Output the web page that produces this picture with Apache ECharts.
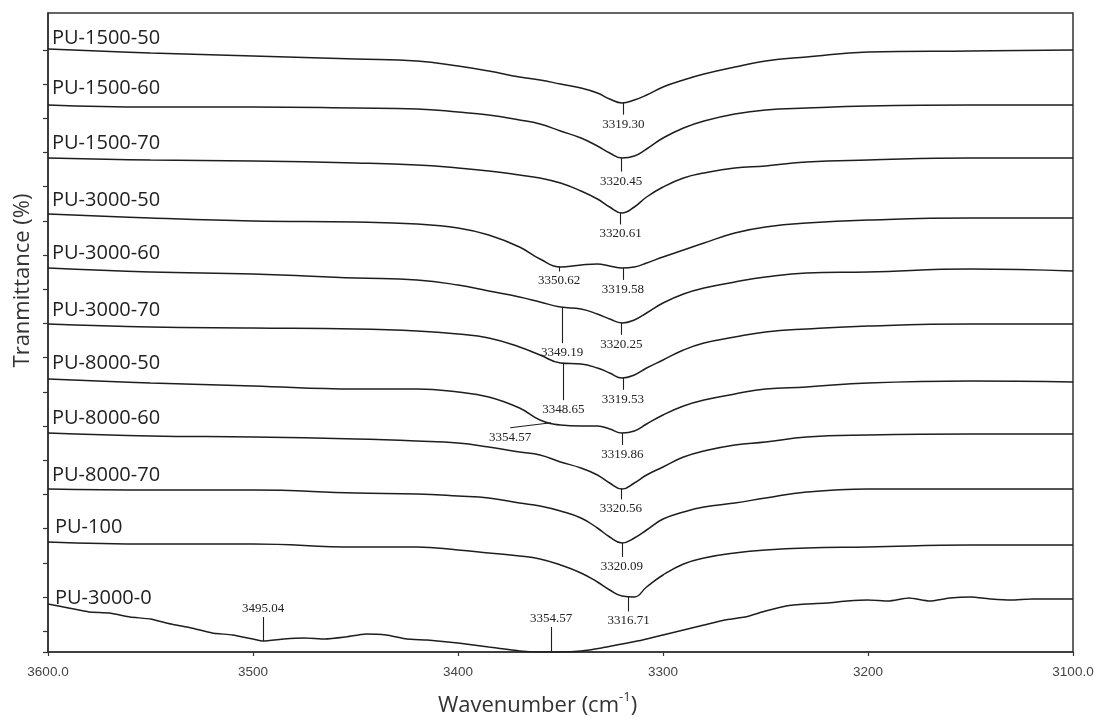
<!DOCTYPE html>
<html><head><meta charset="utf-8">
<script src="https://cdn.jsdelivr.net/npm/echarts@6/dist/echarts.min.js"></script>
<style>html,body{margin:0;padding:0;background:#fff}#chart{width:1095px;height:718px}</style>
</head><body><div id="chart"></div>
<script>
// ---------- DATA ----------
const wavenumbers = [3600,3550,3500,3450,3420,3400,3385,3370,3360,3350,3340,3332,3326,3320,3314,3308,3300,3290,3280,3265,3250,3230,3200,3150,3100];
const seriesNames = ['PU-1500-50','PU-1500-60','PU-1500-70','PU-3000-50','PU-3000-60','PU-3000-70','PU-8000-50','PU-8000-60','PU-8000-70','PU-100','PU-3000-0'];
const pu1500_50 = [60.3,59.9,59.6,59.3,59.1,58.6,58.1,57.5,57.2,56.8,56.4,55.9,55.3,54.9,55.2,55.7,56.5,57.2,57.8,58.5,59.1,59.5,60.0,60.1,60.2];
const pu1500_60 = [54.7,54.5,54.5,54.4,54.3,54.0,53.7,53.2,52.8,52.1,51.4,50.6,49.9,49.4,49.6,50.3,51.4,52.4,53.1,53.8,54.2,54.4,54.6,54.7,54.7];
const pu1500_70 = [49.4,49.2,49.1,48.9,48.7,48.4,48.1,47.7,47.4,46.9,46.1,45.3,44.5,43.9,44.5,45.5,46.5,47.4,47.9,48.4,48.6,49.0,49.2,49.4,49.4];
const pu3000_50 = [43.8,43.4,43.1,43.0,42.8,42.4,41.7,40.5,39.3,38.5,38.7,38.8,38.6,38.4,38.5,38.9,39.5,40.2,40.9,41.9,42.5,42.9,43.2,43.4,43.4];
const pu3000_60 = [38.4,38.0,37.8,37.4,37.2,36.7,36.1,35.5,35.0,34.5,34.3,33.8,33.3,32.9,33.2,33.9,34.9,35.8,36.4,37.0,37.5,37.9,38.0,38.3,38.1];
const pu3000_70 = [32.8,32.5,32.4,32.3,32.1,31.8,31.4,30.5,29.7,28.9,28.8,28.4,27.9,27.4,27.7,28.4,29.2,30.2,30.9,31.5,32.0,32.3,32.6,32.8,32.8];
const pu8000_50 = [27.3,26.9,26.6,26.3,26.3,26.0,25.5,24.4,23.2,22.7,22.6,22.6,22.3,21.9,22.1,22.8,23.7,24.6,25.2,25.8,26.3,26.5,26.9,27.1,27.0];
const pu8000_60 = [21.9,21.6,21.5,21.3,21.1,20.9,20.5,20.0,19.7,19.0,18.4,17.7,16.9,16.3,16.9,17.7,18.5,19.5,20.1,20.7,21.0,21.5,21.7,21.8,21.8];
const pu8000_70 = [16.3,16.2,16.2,15.9,15.8,15.6,15.4,14.9,14.6,14.1,13.4,12.4,11.5,10.9,11.4,12.2,13.3,14.0,14.5,14.9,15.4,16.0,16.3,16.3,16.3];
const pu100     = [11.0,10.8,10.8,10.5,10.5,10.2,9.9,9.6,9.3,8.7,7.9,7.0,6.2,5.6,5.5,6.5,7.7,8.8,9.4,9.9,10.2,10.4,10.5,10.7,10.7];
const pu3000_0_wavenumbers = [3600,3590,3580,3570,3560,3550,3540,3530,3520,3510,3500,3495,3485,3475,3465,3455,3445,3435,3425,3415,3400,3385,3370,3360,3350,3340,3330,3320,3310,3300,3290,3280,3270,3260,3250,3240,3230,3220,3210,3200,3190,3180,3170,3160,3150,3140,3130,3120,3110,3100];
const pu3000_0  = [4.8,4.4,4.0,3.9,3.5,3.3,2.8,2.4,1.9,1.7,1.3,1.1,1.3,1.4,1.3,1.5,1.8,1.7,1.3,1.2,0.9,0.5,0.1,0.0,0.0,0.1,0.4,0.8,1.2,1.7,2.2,2.7,3.2,3.5,4.1,4.6,4.8,4.9,5.1,5.2,5.1,5.4,5.1,5.4,5.5,5.3,5.2,5.3,5.3,5.3];

// peak annotations (series index, wavenumber)
const peakSeries = [0,1,2,3,3,4,4,5,5,6,6,7,8,9,10,10];
const peakWavenumbers = [3319.30,3320.45,3320.61,3350.62,3319.58,3349.19,3320.25,3348.65,3319.53,3354.57,3319.86,3320.56,3320.09,3316.71,3495.04,3354.57];

// axis ticks
const xTickLabels = [3600,3500,3400,3300,3200,3100];
const yTicks = [0,2.1,5.5,8.9,12.4,15.8,19.2,22.6,26.0,29.5,32.9,36.3,39.7,43.1,46.6,50.0,53.4,56.8,60.2];

// ---------- STYLE ----------
const leaderLen   = [1.2,1.4,1.2,0.5,1.2,3.6,1.2,3.7,1.2,0.5,1.2,1.1,1.4,1.5,-2.4,-2.5];
const leaderShift = [0,0,0,0,0,0,0,0,0,20,0,0,0,0,0,0];
const nameDx = [4,4,4,4,4,4,4,4,4,7,7];
const nameDy = [-11,-17,-15,-14,-15,-14,-16,-15,-14,-15,-6];
const INK = '#1e1e1e';

const allY = [pu1500_50,pu1500_60,pu1500_70,pu3000_50,pu3000_60,pu3000_70,pu8000_50,pu8000_60,pu8000_70,pu100,pu3000_0];
const allX = allY.map((_,i)=> i===10 ? pu3000_0_wavenumbers : wavenumbers);

function interp(xs, ys, w){
  for(let i=0;i<xs.length-1;i++){
    const a=xs[i], b=xs[i+1];
    if((w<=a&&w>=b)||(w>=a&&w<=b)){ const t=(w-a)/(b-a); return ys[i]+t*(ys[i+1]-ys[i]); }
  }
  return ys[ys.length-1];
}

const series = allY.map((ys, si) => {
  const xs = allX[si];
  const lines = [], points = [];
  points.push({
    coord:[xs[0], ys[0]], symbolSize:0,
    label:{show:true, formatter: seriesNames[si], position:[nameDx[si], nameDy[si]], align:'left', verticalAlign:'middle',
      fontFamily:'Open Sans', fontSize:20, color:'#222'}
  });
  peakSeries.forEach((ps, k) => {
    if(ps!==si) return;
    const w = peakWavenumbers[k];
    const yc = interp(xs, ys, w);
    const we = w + leaderShift[k];
    const ye = yc - leaderLen[k];
    lines.push([{coord:[w, yc]}, {coord:[we, ye]}]);
    const up = leaderLen[k] < 0;
    points.push({
      coord:[we, ye], symbolSize:0,
      label:{show:true, formatter: w.toFixed(2), position: up?'top':'bottom', distance: up?2:3,
        fontFamily:'Liberation Serif', fontSize:13, color:'#222'}
    });
  });
  return {
    name: seriesNames[si], type:'line', data: xs.map((w,i)=>[w, ys[i]]),
    showSymbol:false, smooth: si===10 ? 0.15 : 0.45, silent:true,
    lineStyle:{color:INK, width:1.5},
    markLine:{silent:true, symbol:['none','none'], animation:false,
      lineStyle:{color:INK, width:1.1, type:'solid'}, label:{show:false}, data: lines},
    markPoint:{silent:true, symbol:'circle', symbolSize:0, animation:false,
      itemStyle:{color:'rgba(0,0,0,0)'}, data: points}
  };
});

const chart = echarts.init(document.getElementById('chart'));
chart.setOption({
  animation:false,
  backgroundColor:'#fff',
  grid:{left:48, right:22, top:13, bottom:66, show:true, borderColor:'#333', borderWidth:1.5, containLabel:false, outerBoundsMode:'none'},
  xAxis:{
    type:'value', min:3100, max:3600, interval:100, inverse:true,
    axisLine:{show:true, onZero:false, lineStyle:{color:'#333', width:1.6}},
    axisTick:{show:true, length:4, lineStyle:{color:'#333', width:1.2}},
    splitLine:{show:false},
    axisLabel:{margin:13, fontFamily:'Liberation Sans', fontSize:13.5, color:'#444', showMinLabel:true, showMaxLabel:true,
      formatter: v => xTickLabels.includes(v) ? ((v===3600||v===3100) ? v.toFixed(1) : String(v)) : ''},
    name:'Wavenumber (cm{sup|-1})', nameLocation:'middle', nameGap:39,
    nameTextStyle:{fontFamily:'Open Sans', fontSize:22, color:'#333', lineHeight:30, padding:[0,46,0,0],
      rich:{sup:{fontFamily:'Open Sans', fontSize:13, color:'#333', verticalAlign:'top', lineHeight:12}}}
  },
  yAxis:{
    type:'value', min:0, max:63.9,
    axisLine:{show:true, onZero:false, lineStyle:{color:'#333', width:1.6}},
    axisTick:{show:true, length:5, customValues: yTicks, lineStyle:{color:'#333', width:1.2}},
    axisLabel:{show:false},
    splitLine:{show:false},
    name:'Tranmittance (%)', nameLocation:'middle', nameGap:14,
    nameTextStyle:{fontFamily:'Open Sans', fontSize:22, color:'#333', padding:[0,0,0,104]}
  },
  series
});
</script></body></html>
